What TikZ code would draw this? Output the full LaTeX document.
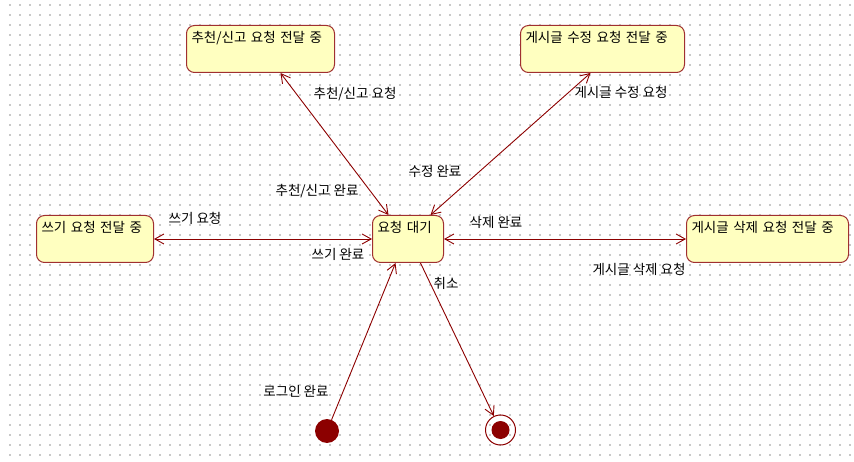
\documentclass[tikz,border=0pt]{standalone}
\usepackage{fontspec}
\setmainfont{Noto Sans CJK KR}
\usetikzlibrary{arrows.meta}

\definecolor{stateline}{RGB}{160,48,48}
\definecolor{statefill}{RGB}{255,255,192}
\definecolor{wirered}{RGB}{140,0,0}
\definecolor{griddot}{RGB}{200,200,200}

% name, north west corner, text width, text
\newcommand{\statebox}[4]{
	\node[state, text width=#3, anchor=north west] (#1) at (#2) {\mbox{#4}};
}

\begin{document}
\begin{tikzpicture}
	[x=1pt, y=-1pt,
	every node/.style={font=\fontsize{13.5}{16}\selectfont},
	state/.style={draw=stateline, fill=statefill, line width=1pt,
		rounded corners=8pt, align=left, inner xsep=5pt, inner ysep=4pt,
		text height=13pt, text depth=26pt},
	wire/.style={draw=wirered, line width=0.9pt},
	>={Straight Barb[length=9pt, width=10pt]},
	lbl/.style={inner sep=0pt}]
	\useasboundingbox (0,0) rectangle (854,462);
	% grid 
	\foreach \gx in {10,20,...,850}{
		\foreach \gy in {5,15,...,455}{
			\fill[griddot] (\gx-0.6,\gy-0.6) rectangle ++(1.2,1.2);
		}
	}
	% states 
	\statebox{recommend}{186,25}{138pt}{추천/신고 요청 전달 중}
	\statebox{edit}{520,25}{154pt}{게시글 수정 요청 전달 중}
	\statebox{write}{36,215}{107pt}{쓰기 요청 전달 중}
	\statebox{wait}{372,215}{61pt}{요청 대기}
	\statebox{delete}{686,215}{152pt}{게시글 삭제 요청 전달 중}
	\node[circle, fill=wirered, minimum size=24pt, inner sep=0pt] (init) at (327,431) {};
	\node[circle, draw=wirered, line width=1pt, minimum size=30pt, inner sep=0pt,
		path picture={\fill[wirered] (path picture bounding box.center) circle (9pt);}]
		(final) at (500.5,430) {};
	% transitions 
	\draw[wire,<->] ([xshift=20pt]recommend.south) -- ([xshift=-19.5pt]wait.north);
	\draw[wire,<->] ([xshift=-12pt]edit.south) -- ([xshift=22.5pt]wait.north);
	\draw[wire,<->] (write.east) -- (wait.west);
	\draw[wire,<->] (wait.east) -- (delete.west);
	\draw[wire,->] (init) -- ([xshift=-12.5pt]wait.south);
	\draw[wire,->] ([xshift=12.5pt]wait.south) -- (final);
	% labels 
	\node[lbl] (recReq) at (355,94) {추천/신고 요청};
	\node[lbl] (recDone) at (317,191) {추천/신고 완료};
	\node[lbl] (editReq) at (621,92) {게시글 수정 요청};
	\node[lbl] (editDone) at (435,171) {수정 완료};
	\node[lbl] (writeReq) at (195,218) {쓰기 요청};
	\node[lbl] (writeDone) at (338,254) {쓰기 완료};
	\node[lbl] (delDone) at (496,222) {삭제 완료};
	\node[lbl] (delReq) at (639,269) {게시글 삭제 요청};
	\node[lbl] (cancel) at (446,283) {취소};
	\node[lbl] (login) at (296,391) {로그인 완료};
\end{tikzpicture}
\end{document}
